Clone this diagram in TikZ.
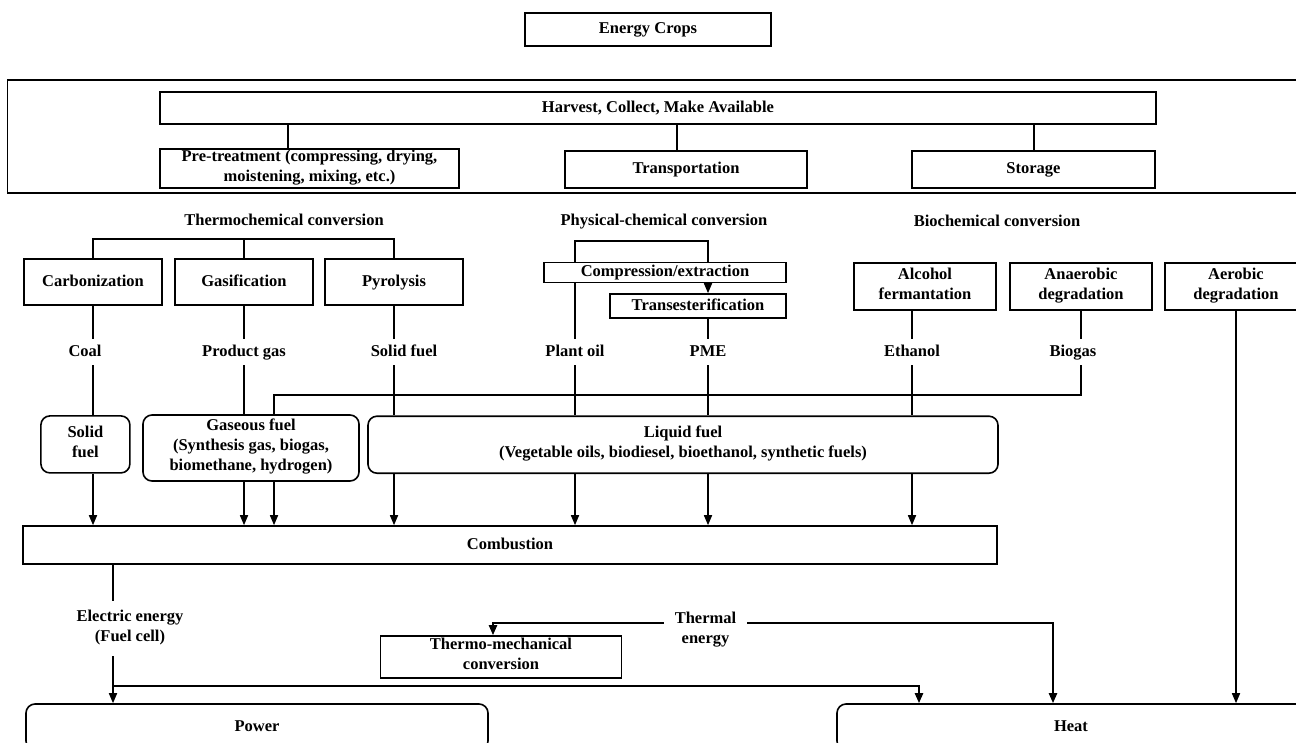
\documentclass[tikz,border=0pt]{standalone}
\usepackage{fontspec}
\setmainfont{Liberation Serif}
\usepackage{tikz}
\usetikzlibrary{arrows.meta,positioning}
\tikzset{
  boxnode/.style={draw=black,line width=1.6pt,inner sep=0pt,align=center,font=\fontsize{16.5}{20}\selectfont\bfseries,
    execute at begin node={\strut},execute at end node={\strut}},
  rndnode/.style={boxnode,rounded corners=9pt},
  txtnode/.style={inner sep=0pt,align=center,minimum height=26pt,font=\fontsize{16.5}{20}\selectfont\bfseries,
    execute at begin node={\strut},execute at end node={\strut}},
  conn/.style={line width=1.6pt,black},
  connthk/.style={conn,line width=2.2pt},
  connarr/.style={conn,-{Triangle[length=10pt,width=8pt]}},
  connthkarr/.style={connthk,-{Triangle[length=10pt,width=8pt]}},
}

\begin{document}
\begin{tikzpicture}[x=1pt,y=-1pt]
  \useasboundingbox (0,0) rectangle (1296,742);
  \node[boxnode,minimum width=246pt,minimum height=33pt] (crops) at (648,29.5) {Energy Crops};
  \node[boxnode,minimum width=1293pt,minimum height=113pt] (prepframe) at (654,136.5) {};
  \node[boxnode,minimum width=996pt,minimum height=32pt] (harvest) at (658,108) {Harvest, Collect, Make Available};
  \node[boxnode,minimum width=299pt,minimum height=39pt] (pretreat) at (309.5,168.5) {Pre-treatment (compressing, drying,\\moistening, mixing, etc.)};
  \node[boxnode,minimum width=242pt,minimum height=37pt] (transport) at (686,169.5) {Transportation};
  \node[boxnode,minimum width=243pt,minimum height=37pt] (storage) at (1033.5,169.5) {Storage};
  \draw[conn] ([xshift=-21.5pt]pretreat.north) -- ++(0,-25);
  \draw[conn] ([xshift=-9pt]transport.north) -- ++(0,-27);
  \draw[conn] ([xshift=0.5pt]storage.north) -- ++(0,-27);

  \node[txtnode] (thermohd) at (284,221) {Thermochemical conversion};
  \node[txtnode] (physhd) at (664,221) {Physical-chemical conversion};
  \node[txtnode] (biohd) at (997,222) {Biochemical conversion};

  \node[boxnode,minimum width=138pt,minimum height=46pt] (carb) at (93,282) {Carbonization};
  \node[boxnode,minimum width=138pt,minimum height=46pt] (gasif) at (244,282) {Gasification};
  \node[boxnode,minimum width=138pt,minimum height=46pt] (pyro) at (394,282) {Pyrolysis};
  \node[boxnode,minimum width=242pt,minimum height=19pt] (comp) at (665,272.5) {Compression/extraction};
  \node[boxnode,minimum width=176pt,minimum height=24pt] (trans) at (698,306) {Transesterification};
  \node[boxnode,minimum width=142pt,minimum height=47pt] (alcohol) at (925,286.5) {Alcohol\\fermantation};
  \node[boxnode,minimum width=142pt,minimum height=47pt] (anaer) at (1081,286.5) {Anaerobic\\degradation};
  \node[boxnode,minimum width=142pt,minimum height=47pt] (aerob) at (1236,286.5) {Aerobic\\degradation};

  \node[txtnode] (coal) at (85,352) {Coal};
  \node[txtnode] (prodgas) at (244,352) {Product gas};
  \node[txtnode] (solidlbl) at (404,352) {Solid fuel};
  \node[txtnode] (plantoil) at (575,352) {Plant oil};
  \node[txtnode] (pme) at (708,352) {PME};
  \node[txtnode] (ethanol) at (912,352) {Ethanol};
  \node[txtnode] (biogas) at (1073,352) {Biogas};

  \node[rndnode,minimum width=89pt,minimum height=57pt] (solidfuel) at (85.4,444.4) {Solid\\fuel};
  \node[rndnode,minimum width=216pt,minimum height=66pt] (gasfuel) at (251,448) {Gaseous fuel\\(Synthesis gas, biogas,\\biomethane, hydrogen)};
  \node[rndnode,minimum width=630pt,minimum height=57pt] (liquid) at (683,444.7) {Liquid fuel\\(Vegetable oils, biodiesel, bioethanol, synthetic fuels)};
  \node[boxnode,minimum width=974pt,minimum height=38pt] (combust) at (510,545) {Combustion};

  \node[txtnode,minimum height=55pt] (elec) at (130,628.5) {Electric energy\\(Fuel cell)};
  \node[txtnode,minimum width=83pt] (thermal) at (705.5,631) {Thermal\\energy};
  \node[boxnode,minimum width=241pt,minimum height=42pt] (thermomech) at (501,657) {Thermo-mechanical\\conversion};
  \node[rndnode,minimum width=462pt,minimum height=46pt] (power) at (257,727) {Power};
  \node[rndnode,minimum width=468pt,minimum height=46pt] (heat) at (1071,727) {Heat};

  \draw[connthk] (carb.north) |- ([yshift=19pt]gasif.north) -| (pyro.north);
  \draw[conn] (gasif.north) -- ++(0,-19);
  \draw[conn] (carb.south) -- (carb.south |- coal.north);
  \draw[conn] (carb.south |- coal.south) -- (carb.south |- solidfuel.north);
  \draw[connarr] (carb.south |- solidfuel.south) -- (carb.south |- combust.north);
  \draw[conn] (gasif.south) -- (prodgas.north);
  \draw[conn] (prodgas.south) -- (prodgas.south |- gasfuel.north);
  \draw[connarr] (prodgas.south |- gasfuel.south) -- (prodgas.south |- combust.north);
  \draw[conn] (pyro.south) -- (pyro.south |- solidlbl.north);
  \draw[conn] (pyro.south |- solidlbl.south) -- (pyro.south |- liquid.north);
  \draw[connarr] (pyro.south |- liquid.south) -- (pyro.south |- combust.north);

  \draw[connthk] (plantoil.north |- comp.north) -- ++(0,-21) -| (pme.north |- comp.north);
  \draw[connarr] (pme.north |- comp.south) -- (pme.north |- trans.north);
  \draw[conn] (plantoil.north |- comp.south) -- (plantoil.north);
  \draw[conn] (pme.north |- trans.south) -- (pme.north);
  \draw[conn] (ethanol.north |- alcohol.south) -- (ethanol.north);
  \foreach \fl in {plantoil,pme,ethanol}{
    \draw[conn] (\fl.south) -- (\fl.south |- liquid.north);
    \draw[connarr] (\fl.south |- liquid.south) -- (\fl.south |- combust.north);
  }

  \coordinate (bgturn) at (1081,395);
  \draw[conn] (anaer.south) -- (anaer.south |- biogas.north);
  \draw[connthk] (anaer.south |- biogas.south) -- (bgturn) -| ([xshift=23pt]gasfuel.north);
  \draw[connarr] ([xshift=23pt]gasfuel.south) -- ([xshift=23pt]gasfuel.south |- combust.north);
  \draw[connarr] (aerob.south) -- (aerob.south |- heat.north);

  \coordinate (elecx) at ([xshift=-17pt]elec.center);
  \coordinate (split) at (113,686);
  \draw[conn] (elecx |- combust.south) -- (elecx |- elec.north);
  \draw[connarr] (elecx |- elec.south) -- (elecx |- power.north);
  \draw[connthkarr] (split) -| ([xshift=-152pt]heat.north);
  \draw[connthkarr] ([yshift=8pt]thermal.west) -| ([xshift=-8pt]thermomech.north);
  \draw[connthkarr] ([yshift=8pt]thermal.east) -| ([xshift=-18pt]heat.north);
\end{tikzpicture}
\end{document}
